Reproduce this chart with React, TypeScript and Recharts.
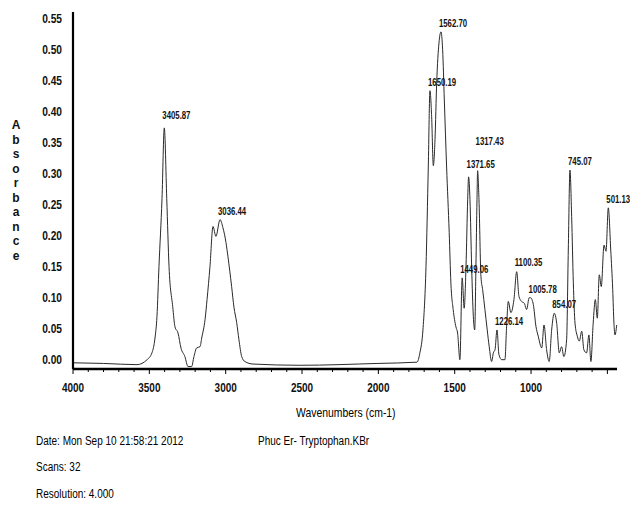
import { ComposedChart, Line, Scatter, XAxis, YAxis } from 'recharts';

// spectrum, [wavenumber cm-1, absorbance]
const BASE_HIGH: [number, number][] = [
  [4000, -0.005], [3800, -0.006], [3581, -0.008], [3515, 0.0], [3483, 0.011],
];
const BAND_3400: [number, number][] = [
  [3463, 0.035], [3450, 0.07], [3437, 0.15], [3417, 0.26], [3402, 0.374], [3386, 0.26],
  [3371, 0.15], [3347, 0.086], [3332, 0.053], [3312, 0.043], [3293, 0.019], [3267, 0.005],
  [3247, -0.011], [3223, -0.011], [3208, 0.005],
];
const BAND_3000: [number, number][] = [
  [3190, 0.019], [3168, 0.021], [3157, 0.035], [3135, 0.065], [3122, 0.097], [3103, 0.15],
  [3083, 0.215], [3064, 0.199], [3037, 0.226], [3018, 0.213], [2998, 0.189], [2985, 0.166],
  [2961, 0.118], [2946, 0.085], [2928, 0.06], [2913, 0.032], [2895, 0.005], [2874, -0.003],
];
const BASE_MID: [number, number][] = [
  [2821, -0.007], [2513, -0.009], [2003, -0.006], [1747, -0.004],
];
const BAND_1600: [number, number][] = [
  [1728, 0.011], [1708, 0.048], [1688, 0.15], [1673, 0.311], [1662, 0.434], [1651, 0.392],
  [1640, 0.313], [1629, 0.355], [1618, 0.447], [1603, 0.511], [1590, 0.529], [1579, 0.5],
  [1568, 0.419], [1553, 0.311], [1536, 0.205], [1525, 0.124], [1510, 0.081], [1492, 0.053],
  [1481, 0.043], [1466, 0.0],
];
const BAND_1400: [number, number][] = [
  [1451, 0.132], [1438, 0.083], [1426, 0.15], [1415, 0.258], [1409, 0.295], [1400, 0.258],
  [1389, 0.15], [1378, 0.07], [1369, 0.048], [1361, 0.15], [1354, 0.258], [1350, 0.305],
  [1341, 0.258], [1328, 0.134], [1317, 0.113], [1302, 0.081], [1287, 0.048], [1274, 0.021],
  [1258, -0.003],
];
const BAND_1100: [number, number][] = [
  [1247, 0.011], [1236, 0.016], [1223, 0.048], [1210, 0.008], [1192, 0.0], [1171, 0.0],
  [1160, 0.054], [1149, 0.094], [1132, 0.076], [1112, 0.097], [1094, 0.142], [1079, 0.102],
  [1062, 0.094], [1044, 0.091], [1029, 0.081], [1012, 0.1], [1003, 0.1], [985, 0.089],
  [968, 0.054], [953, 0.038], [930, 0.019], [915, 0.056], [898, 0.016], [881, -0.003],
];
const BAND_800: [number, number][] = [
  [865, 0.048], [848, 0.075], [832, 0.059], [815, 0.011], [800, 0.021], [785, 0.005],
  [767, 0.032], [756, 0.177], [745, 0.306], [734, 0.231], [723, 0.124], [712, 0.059],
  [697, 0.038], [684, 0.03], [668, 0.046], [654, 0.016], [636, 0.011], [621, 0.04],
  [608, -0.003],
];
const BAND_500: [number, number][] = [
  [593, 0.059], [579, 0.097], [566, 0.067], [553, 0.137], [540, 0.118], [522, 0.185],
  [509, 0.175], [494, 0.245], [478, 0.177], [465, 0.113], [457, 0.059], [450, 0.04],
  [439, 0.056],
];

const PEAK_LABELS = ['3405.87', '3036.44', '1650.19', '1562.70', '1449.06', '1371.65', '1317.43',
  '1226.14', '1100.35', '1005.78', '854.07', '745.07', '501.13'];
const PEAK_WN = [3402, 3037, 1662, 1590, 1451, 1409, 1350, 1223, 1094, 1003, 848, 745, 494];

const X_TICKS = Array.from({ length: 36 }, (_, i) => 4000 - i * 100);
const X_LABELS = [4000, 3500, 3000, 2500, 2000, 1500, 1000];
const Y_TICKS = [0, 0.05, 0.1, 0.15, 0.2, 0.25, 0.3, 0.35, 0.4, 0.45, 0.5, 0.55];

const spectrum = [...BASE_HIGH, ...BAND_3400, ...BAND_3000, ...BASE_MID, ...BAND_1600,
  ...BAND_1400, ...BAND_1100, ...BAND_800, ...BAND_500].map(([wn, abs]) => ({ wn, abs }));

const peaks = PEAK_LABELS.map((label, i) => {
  const hit = spectrum.find((p) => p.wn === PEAK_WN[i]);
  return { wn: PEAK_WN[i], abs: hit ? hit.abs : 0, label };
});

// a few labels sit higher to clear their neighbours
const LABEL_DY: Record<string, number> = { '3405.87': -9, '1371.65': -9, '1317.43': -26, '1100.35': -6 };

const FONT = '"Liberation Sans", Arial, sans-serif';

const XTick = ({ x, y, payload }: any) => {
  const v = payload.value;
  const major = v % 500 === 0;
  return (
    <g>
      <line x1={x} y1={y} x2={x} y2={y + (major ? 5 : 3)} stroke="#000" strokeWidth={1} />
      {X_LABELS.includes(v) && (
        <text transform={`translate(${x},${y + 23}) scale(0.8,1)`} textAnchor="middle"
          fontSize={12.5} fontWeight="bold" fill="#111" fontFamily={FONT}>{v}</text>
      )}
    </g>
  );
};

const YTick = ({ x, y, payload }: any) => (
  <text transform={`translate(${x - 11},${y}) scale(0.85,1)`} textAnchor="end" dy="0.36em"
    fontSize={12} fontWeight="bold" fill="#111" fontFamily={FONT}>
    {payload.value.toFixed(2)}
  </text>
);

const PeakLabel = ({ cx, cy, payload }: any) => {
  const dy = LABEL_DY[payload.label] ?? -5;
  return (
    <text transform={`translate(${cx - 2},${cy + dy}) scale(0.78,1)`} fontSize={10}
      fontWeight="bold" fill="#111" fontFamily={FONT}>{payload.label}</text>
  );
};

const txt = (left: number, top: number, size: number, s: string) => (
  <div style={{ position: 'absolute', left, top: top - size / 2, fontSize: size, lineHeight: `${size}px`,
    whiteSpace: 'nowrap', transform: 'scaleX(0.8)', transformOrigin: 'left center', color: '#000' }}>{s}</div>
);

export default function App() {
  return (
    <div style={{ position: 'absolute', left: 0, top: 0, width: 630, height: 506, background: '#fff',
      fontFamily: FONT, overflow: 'visible' }}>
      <ComposedChart width={630} height={506} data={spectrum} style={{ overflow: 'visible' }}
        margin={{ top: 12, right: 13, bottom: 107, left: 0 }}>
        <XAxis dataKey="wn" type="number" domain={[437, 4000]} reversed ticks={X_TICKS}
          interval={0} tick={<XTick />} tickLine={false} tickSize={0} tickMargin={0} height={30}
          axisLine={{ stroke: '#000', strokeWidth: 2.5 }} />
        <YAxis type="number" domain={[-0.015, 0.561]} ticks={Y_TICKS} interval={0} width={73}
          tick={<YTick />} tickLine={false} tickSize={0} tickMargin={0}
          axisLine={{ stroke: '#000', strokeWidth: 2.2 }} />
        <Line dataKey="abs" type="monotone" stroke="#2a2a2a" strokeWidth={1} dot={false}
          isAnimationActive={false} />
        <Scatter data={peaks} dataKey="abs" shape={<PeakLabel />} isAnimationActive={false} />
      </ComposedChart>
      <div style={{ position: 'absolute', left: 10, top: 118, width: 12, fontSize: 12, fontWeight: 'bold',
        lineHeight: '14.5px', textAlign: 'center', color: '#111' }}>
        {'Absorbance'.split('').map((c, i) => <div key={i}>{c}</div>)}
      </div>
      {txt(296, 412, 13, 'Wavenumbers (cm-1)')}
      {txt(36, 441, 12.5, 'Date: Mon Sep 10 21:58:21 2012')}
      {txt(258, 441, 12.5, 'Phuc Er- Tryptophan.KBr')}
      {txt(36, 467, 12.5, 'Scans: 32')}
      {txt(36, 494, 12.5, 'Resolution:  4.000')}
    </div>
  );
}
